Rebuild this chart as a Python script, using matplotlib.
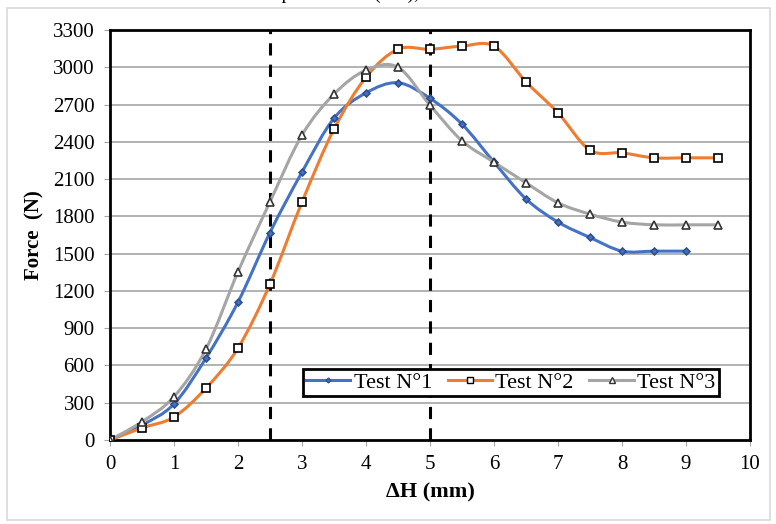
import numpy as np
import matplotlib.pyplot as plt
from matplotlib.path import Path
from matplotlib.patches import PathPatch, Rectangle
from matplotlib.lines import Line2D

plt.rcParams['font.family'] = ['Liberation Serif', 'DejaVu Serif']

# penetration steps (mm)
dh_1 = [0, 0.5, 1, 1.5, 2, 2.5, 3, 3.5, 4, 4.5, 5, 5.5, 6, 6.5, 7, 7.5, 8, 8.5, 9]
dh_23 = [0, 0.5, 1, 1.5, 2, 2.5, 3, 3.5, 4, 4.5, 5, 5.5, 6, 6.5, 7, 7.5, 8, 8.5, 9, 9.5]

force_1 = [0, 120, 290, 660, 1110, 1670, 2156, 2590, 2794, 2875, 2750, 2542,
           2236, 1940, 1754, 1630, 1520, 1520, 1520]
force_2 = [0, 97, 185, 418, 740, 1255, 1915, 2502, 2920, 3145, 3145, 3170,
           3170, 2883, 2633, 2333, 2311, 2271, 2271, 2271]
force_3 = [0, 147, 348, 732, 1354, 1917, 2454, 2784, 2977, 3000, 2695, 2408,
           2236, 2070, 1909, 1818, 1754, 1732, 1732, 1732]

labels = ["Test N°1", "Test N°2", "Test N°3"]
colors = ["#4472C4", "#ED7D31", "#A5A5A5"]
yticks = list(range(0, 3301, 300))
xticks = list(range(0, 11))
dashed_x = [2.5, 5]


# excel-like smoothed line: catmull-rom segments turned into cubic beziers
def smooth_path(x, y):
    pts = np.column_stack([x, y]).astype(float)
    verts = [pts[0]]
    codes = [Path.MOVETO]
    n = len(pts)
    for i in range(n - 1):
        p0 = pts[max(i - 1, 0)]
        p1 = pts[i]
        p2 = pts[i + 1]
        p3 = pts[min(i + 2, n - 1)]
        c1 = p1 + (p2 - p0) / 6.0
        c2 = p2 - (p3 - p1) / 6.0
        verts += [c1, c2, p2]
        codes += [Path.CURVE4] * 3
    return Path(verts, codes)


fig = plt.figure(figsize=(7.76, 5.24), dpi=100)
fig.patches.append(Rectangle((7 / 776, 4 / 524), 763 / 776, 512 / 524,
                             transform=fig.transFigure, fill=False,
                             edgecolor="#d9d9d9", linewidth=1.2))
# caption above the chart, cut off by the top edge as in the source
fig.text(290 / 776, 1.0 + 1.0 / 524,
         "Evolution of the force versus the penetration (ΔH), for the three tests",
         ha="center", va="baseline", fontsize=14, color="black")

ax = fig.add_axes([110 / 776, 1 - 440 / 524, 640 / 776, 410 / 524])

for yv in yticks[1:-1]:
    ax.axhline(yv, color="#a6a6a6", linewidth=1.2, zorder=0)

for xv in dashed_x:
    ax.axvline(xv, color="black", linestyle=(0, (4, 3)), linewidth=2.2, zorder=1)

series = [(dh_1, force_1, "D", 3.5, colors[0], "#2f4f8f"),
          (dh_23, force_2, "s", 6, "white", "black"),
          (dh_23, force_3, "^", 6, "white", "#333333")]

handles = []
for (xs, ys, mk, ms, mfc, mec), col, lab in zip(series, colors, labels):
    ax.add_patch(PathPatch(smooth_path(xs, ys), facecolor="none", edgecolor=col,
                           linewidth=2.2, zorder=3))
    ax.plot(xs, ys, linestyle="none", marker=mk, markersize=ms,
            markerfacecolor=mfc, markeredgecolor=mec, markeredgewidth=1.2, zorder=4)
    handles.append(Line2D([], [], color=col, linewidth=2.2, marker=mk,
                          markersize=ms * 0.7, markerfacecolor=mfc,
                          markeredgecolor=mec, markeredgewidth=1.0))

ax.set_xlim(0, 10)
ax.set_ylim(0, 3300)
ax.set_xticks(xticks)
ax.set_yticks(yticks)
ax.tick_params(labelsize=15, length=4, color="#a6a6a6", pad=7)
for s in ax.spines.values():
    s.set_linewidth(2)
    s.set_color("black")

ax.set_xlabel("ΔH (mm)", fontsize=16, fontweight="bold", labelpad=6)
ax.set_ylabel("Force  (N)", fontsize=15, fontweight="bold", labelpad=6)

leg = ax.legend(handles, labels, ncol=3, loc="center",
                bbox_to_anchor=(0.626, 0.140), fontsize=16, frameon=True,
                fancybox=False, edgecolor="black", handlelength=2.0,
                columnspacing=0.7, handletextpad=0.15, borderpad=0.15,
                borderaxespad=0)
leg.get_frame().set_linewidth(2)
leg.get_frame().set_alpha(1)

fig.savefig("out.png", dpi=100)
